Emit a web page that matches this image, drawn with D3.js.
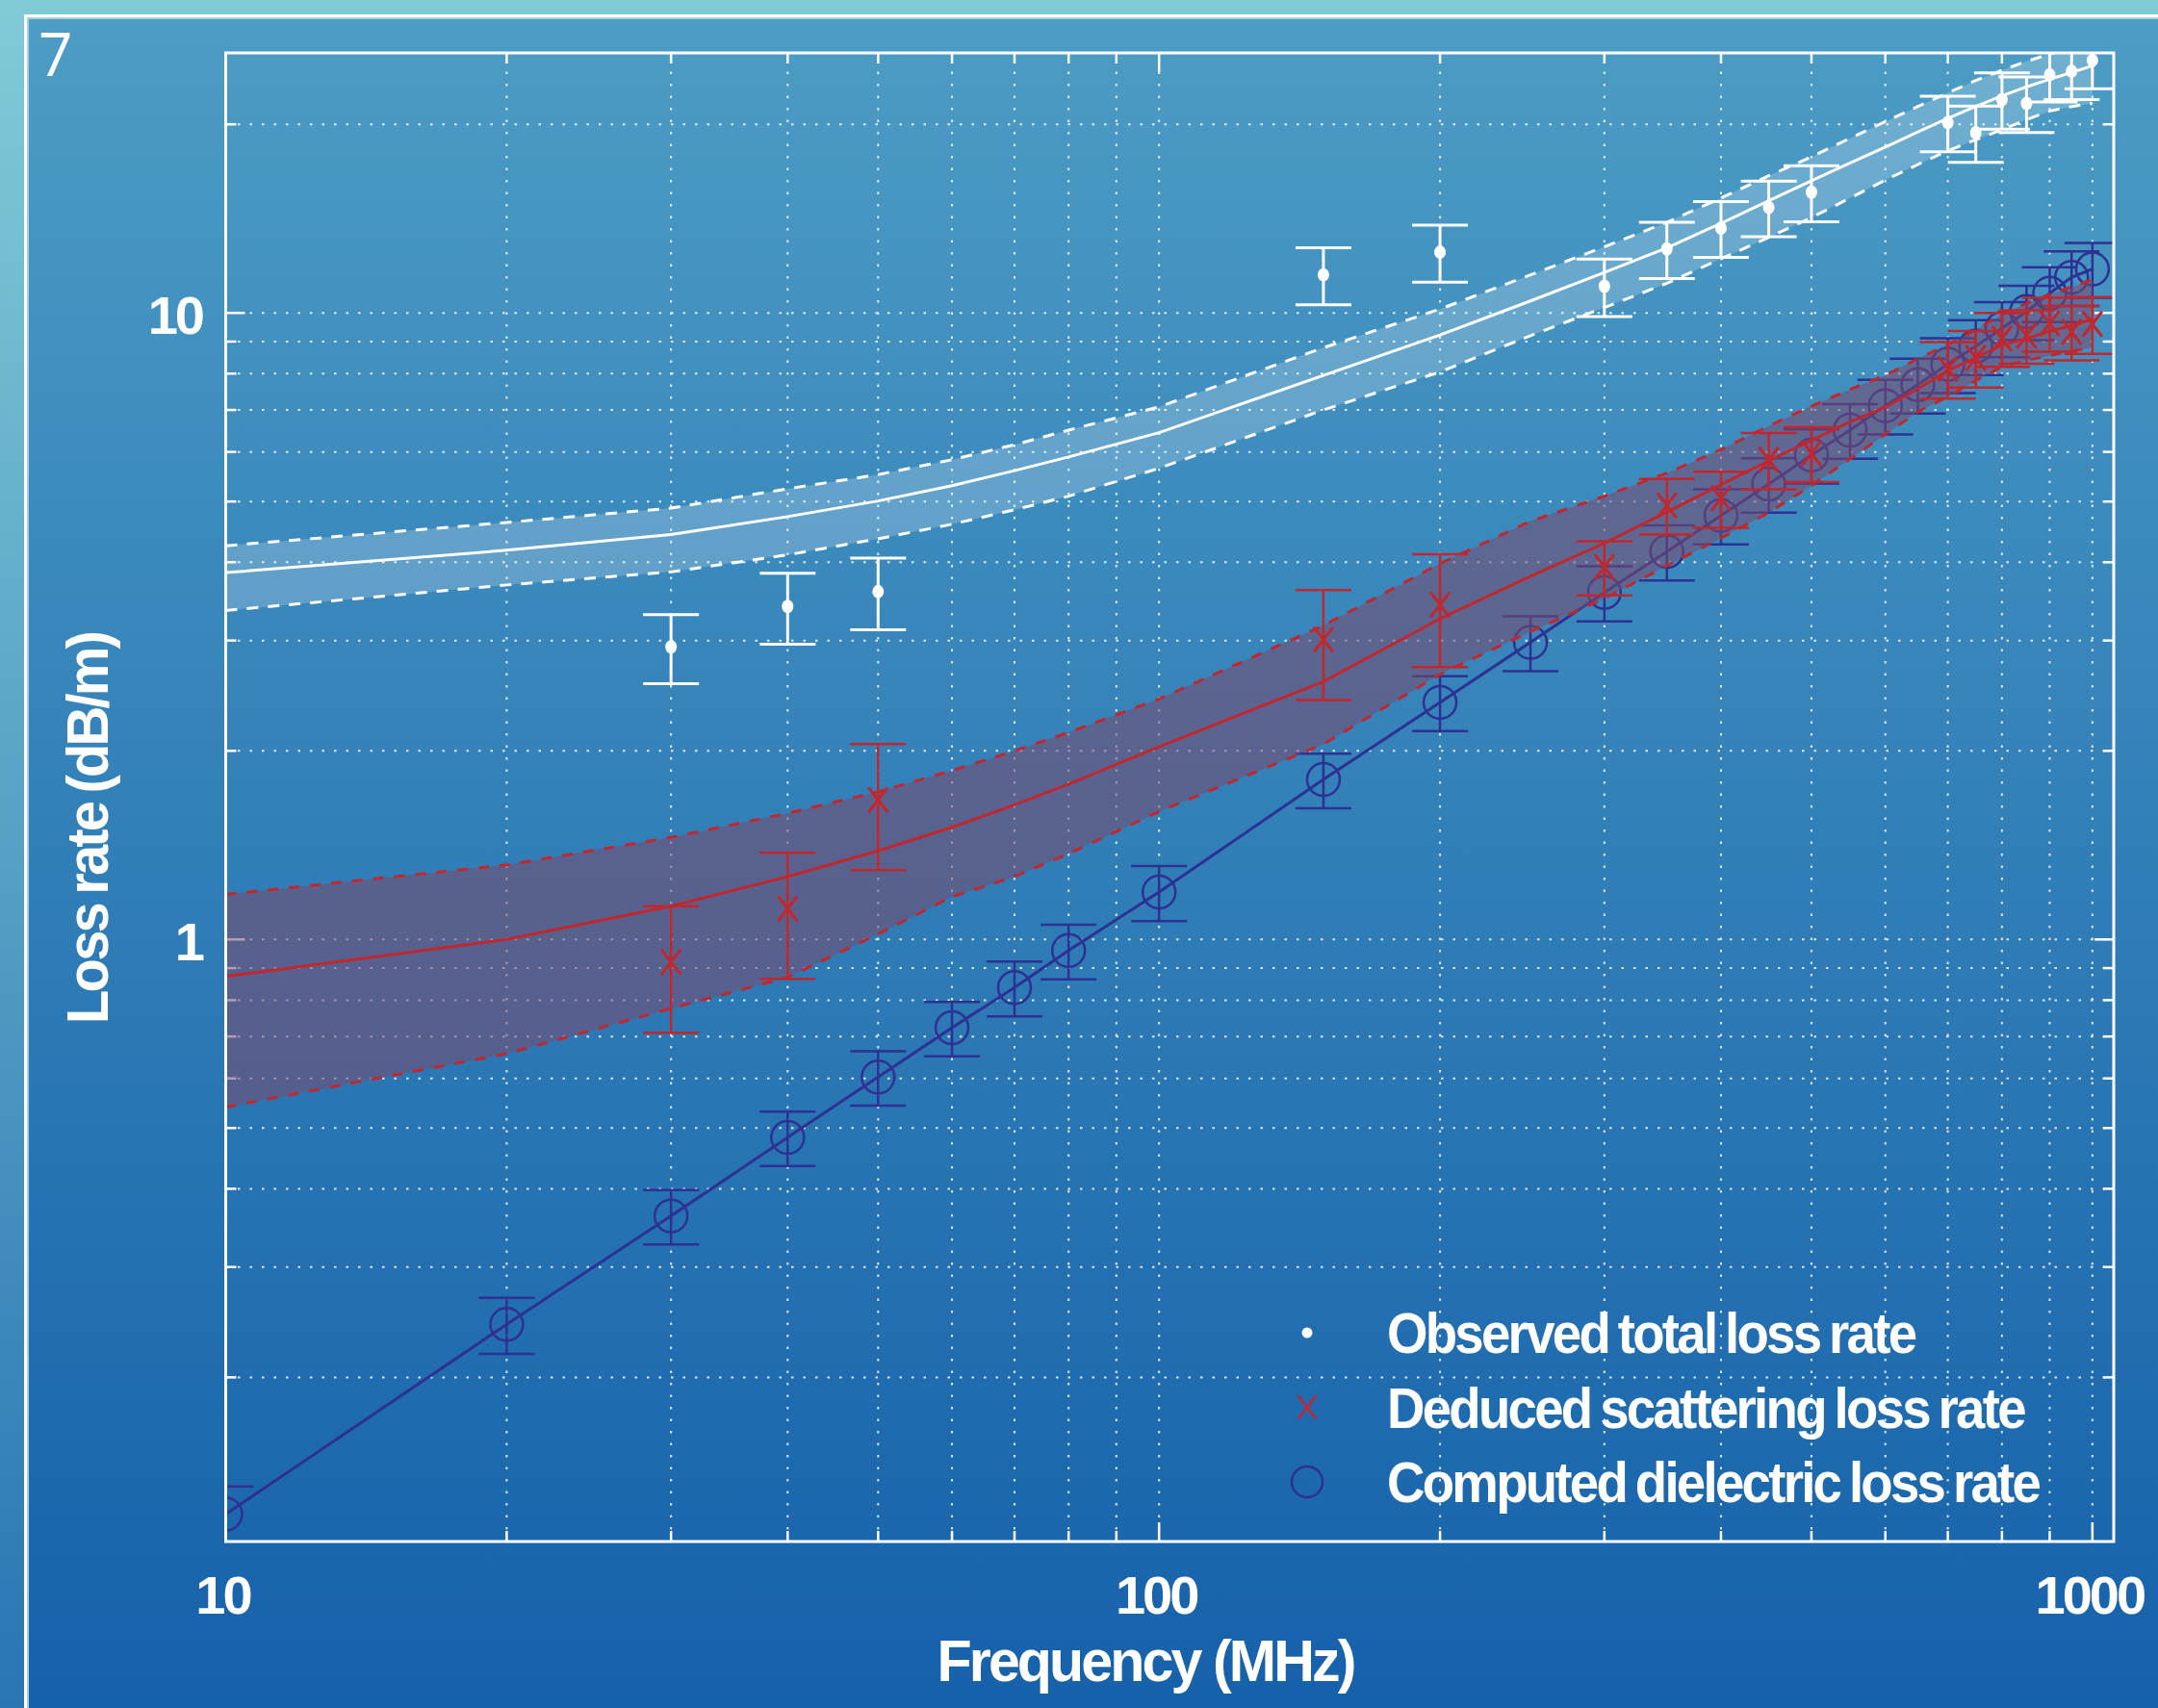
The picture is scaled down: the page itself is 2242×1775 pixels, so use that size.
<!DOCTYPE html>
<html>
<head>
<meta charset="utf-8">
<script src="https://cdn.jsdelivr.net/npm/d3@7"></script>
<style>
body { margin: 0; background: #1560aa; }
text { font-family: "Liberation Sans", Arial, sans-serif; fill: #fff; }
</style>
</head>
<body>
<div id="chart"></div>
<script>
// frequencies (MHz) of the model curves and the computed dielectric points
const freqs = [10, 20, 30, 40, 50, 60, 70, 80, 100, 150, 200, 250, 300, 350, 400, 450, 500, 550, 600, 650, 700, 750, 800, 850, 900, 950, 1000];

// computed dielectric loss rate (dB/m) and its error
const dielectric = [0.121, 0.243, 0.362, 0.483, 0.603, 0.723, 0.838, 0.96, 1.19, 1.80, 2.39, 2.98, 3.58, 4.16, 4.75, 5.33, 5.93, 6.5, 7.11, 7.68, 8.28, 8.85, 9.45, 10.05, 10.75, 11.4, 11.75];
const dielectricErr = [0.013, 0.025, 0.036, 0.048, 0.06, 0.072, 0.084, 0.096, 0.12, 0.18, 0.24, 0.3, 0.36, 0.42, 0.48, 0.53, 0.59, 0.65, 0.71, 0.77, 0.83, 0.89, 0.95, 1.0, 1.08, 1.14, 1.18];

// model curves: total loss (white) and scattering loss (red), with their bands
const totalFit = [3.85, 4.18, 4.43, 4.73, 5.01, 5.3, 5.6, 5.89, 6.44, 7.95, 9.22, 10.45, 11.6, 12.7, 13.9, 15.1, 16.25, 17.35, 18.4, 19.45, 20.45, 21.35, 22.2, 22.95, 23.6, 24.2, 24.8];
const totalHi = [4.25, 4.63, 4.88, 5.24, 5.52, 5.83, 6.16, 6.5, 7.08, 8.8, 10.14, 11.5, 12.75, 13.95, 15.25, 16.55, 17.75, 19.0, 20.2, 21.35, 22.45, 23.5, 24.4, 25.2, 25.9, 26.5, 27.1];
const totalLo = [3.35, 3.68, 3.86, 4.11, 4.36, 4.6, 4.85, 5.1, 5.65, 7.0, 8.05, 9.2, 10.2, 11.15, 12.2, 13.2, 14.2, 15.25, 16.3, 17.25, 18.15, 18.9, 19.6, 20.35, 21.0, 21.35, 21.6];
const scatFit = [0.873, 1.0, 1.13, 1.26, 1.385, 1.51, 1.64, 1.77, 2.03, 2.58, 3.25, 3.8, 4.29, 4.81, 5.32, 5.81, 6.26, 6.7, 7.07, 7.56, 8.09, 8.48, 8.89, 9.1, 9.35, 9.55, 9.77];
const scatHi = [1.18, 1.315, 1.455, 1.59, 1.72, 1.86, 2.0, 2.14, 2.42, 3.17, 3.98, 4.65, 5.1, 5.55, 6.05, 6.6, 7.1, 7.55, 7.95, 8.45, 8.9, 9.4, 9.95, 10.35, 10.7, 11.0, 11.3];
const scatLo = [0.54, 0.657, 0.776, 0.87, 1.02, 1.17, 1.26, 1.37, 1.6, 2.05, 2.65, 3.1, 3.5, 3.95, 4.37, 4.8, 5.3, 5.85, 6.4, 6.95, 7.35, 7.8, 8.2, 8.4, 8.55, 8.7, 8.8];

// observed total and deduced scattering points
const obsFreqs = [30, 40, 50, 150, 200, 300, 350, 400, 450, 500, 700, 750, 800, 850, 900, 950, 1000];
const observed = [2.93, 3.40, 3.59, 11.5, 12.5, 11.03, 12.65, 13.66, 14.73, 15.58, 20.13, 19.39, 21.9, 21.6, 24.0, 24.3, 25.3];
const observedErr = [0.37, 0.44, 0.47, 1.2, 1.3, 1.16, 1.3, 1.4, 1.5, 1.6, 2.05, 2.0, 2.25, 2.2, 2.3, 2.4, 2.5];
const scattering = [0.92, 1.12, 1.67, 3.01, 3.42, 3.93, 4.93, 5.06, 5.83, 5.97, 8.14, 8.48, 9.1, 9.2, 9.62, 9.33, 9.6];
const scatteringErr = [0.21, 0.255, 0.38, 0.6, 0.7, 0.39, 0.5, 0.52, 0.6, 0.6, 0.84, 0.88, 0.9, 0.9, 0.95, 0.93, 1.0];

// ticks
const xTicks = [10, 20, 30, 40, 50, 60, 70, 80, 90, 100, 200, 300, 400, 500, 600, 700, 800, 900, 1000];
const xLabels = [10, 100, 1000];
const yTicks = [0.2, 0.3, 0.4, 0.5, 0.6, 0.7, 0.8, 0.9, 1, 2, 3, 4, 5, 6, 7, 8, 9, 10, 20];
const yLabels = [1, 10];

const legendLabels = ['Observed total loss rate', 'Deduced scattering loss rate', 'Computed dielectric loss rate'];

const W = 2242, H = 1775;
const plot = { left: 234.5, right: 2196, top: 55, bottom: 1602 };
const red = '#c1272d', blue = '#2e3192';

const x = d3.scaleLog().domain([10, 1054]).range([plot.left, plot.right]);
const y = d3.scaleLog().domain([0.1094, 26]).range([plot.bottom, plot.top]);

const svg = d3.select('#chart').append('svg').attr('width', W).attr('height', H);
const defs = svg.append('defs');

const grad = (id, c0, c1) => {
    const g = defs.append('linearGradient').attr('id', id)
        .attr('x1', 0).attr('y1', 0).attr('x2', 0).attr('y2', 1);
    g.append('stop').attr('offset', 0).attr('stop-color', c0);
    g.append('stop').attr('offset', 1).attr('stop-color', c1);
};
grad('strip', '#80cbd6', '#2a75b3');
grad('panel', '#4c9cc5', '#1560aa');

defs.append('clipPath').attr('id', 'clip').append('rect')
    .attr('x', plot.left).attr('y', plot.top)
    .attr('width', plot.right - plot.left).attr('height', plot.bottom - plot.top);

// slide background
svg.append('rect').attr('width', W).attr('height', H).attr('fill', 'url(#strip)');
svg.append('rect').attr('x', 25).attr('y', 15).attr('width', W).attr('height', H).attr('fill', '#fff');
svg.append('rect').attr('x', 28).attr('y', 18).attr('width', W).attr('height', H).attr('fill', '#a9cde3');
svg.append('rect').attr('x', 30).attr('y', 20).attr('width', W).attr('height', H).attr('fill', 'url(#panel)');

svg.append('text').attr('x', 40).attr('y', 79)
    .style('font-family', '"Open Sans", sans-serif').style('font-weight', 400)
    .style('font-size', '62px').text('7');

// dotted grid
const grid = svg.append('g').attr('stroke', '#fff').attr('stroke-width', 2)
    .attr('stroke-dasharray', '2.5,10').attr('opacity', 0.85);
grid.selectAll('.gx').data(xTicks.filter((d) => d > 10)).join('line')
    .attr('x1', (d) => x(d)).attr('x2', (d) => x(d))
    .attr('y1', plot.bottom).attr('y2', plot.top);
grid.selectAll('.gy').data(yTicks).join('line')
    .attr('y1', (d) => y(d)).attr('y2', (d) => y(d))
    .attr('x1', plot.left).attr('x2', plot.right);

// ticks on all four sides, pointing inward
const isMajor = (d) => Math.abs(Math.log10(d) - Math.round(Math.log10(d))) < 1e-9;
const ticks = svg.append('g').attr('stroke', '#fff').attr('stroke-width', 2.5);
const tl = (d) => (isMajor(d) ? 20 : 11);
ticks.selectAll('.tb').data(xTicks).join('line')
    .attr('x1', (d) => x(d)).attr('x2', (d) => x(d))
    .attr('y1', plot.bottom).attr('y2', (d) => plot.bottom - tl(d));
ticks.selectAll('.tt').data(xTicks).join('line')
    .attr('x1', (d) => x(d)).attr('x2', (d) => x(d))
    .attr('y1', plot.top).attr('y2', (d) => plot.top + tl(d));
ticks.selectAll('.tl').data(yTicks).join('line')
    .attr('y1', (d) => y(d)).attr('y2', (d) => y(d))
    .attr('x1', plot.left).attr('x2', (d) => plot.left + tl(d));
ticks.selectAll('.tr').data(yTicks).join('line')
    .attr('y1', (d) => y(d)).attr('y2', (d) => y(d))
    .attr('x1', plot.right).attr('x2', (d) => plot.right - tl(d));

const body = svg.append('g').attr('clip-path', 'url(#clip)');

const line = (vals) => d3.line().x((d, i) => x(freqs[i])).y((d, i) => y(vals[i]))(freqs);
const area = (lo, hi) => d3.area()
    .x((d, i) => x(freqs[i])).y0((d, i) => y(lo[i])).y1((d, i) => y(hi[i]))(freqs);

function errorBars(g, fs, vals, errs, color, width) {
    const pts = fs.map((f, i) => ({ f, v: vals[i], e: errs[i] }));
    const eg = g.append('g').attr('stroke', color).attr('stroke-width', width).attr('fill', 'none');
    eg.selectAll('.v').data(pts).join('line')
        .attr('x1', (d) => x(d.f)).attr('x2', (d) => x(d.f))
        .attr('y1', (d) => y(d.v - d.e)).attr('y2', (d) => y(d.v + d.e));
    eg.selectAll('.hi').data(pts).join('line')
        .attr('x1', (d) => x(d.f) - 29).attr('x2', (d) => x(d.f) + 29)
        .attr('y1', (d) => y(d.v + d.e)).attr('y2', (d) => y(d.v + d.e));
    eg.selectAll('.lo').data(pts).join('line')
        .attr('x1', (d) => x(d.f) - 29).attr('x2', (d) => x(d.f) + 29)
        .attr('y1', (d) => y(d.v - d.e)).attr('y2', (d) => y(d.v - d.e));
    return pts;
}

// computed dielectric loss (blue)
body.append('path').attr('d', line(dielectric)).attr('fill', 'none')
    .attr('stroke', blue).attr('stroke-width', 3);
const bluePts = errorBars(body, freqs, dielectric, dielectricErr, blue, 2.5);
body.append('g').selectAll('circle').data(bluePts).join('circle')
    .attr('cx', (d) => x(d.f)).attr('cy', (d) => y(d.v)).attr('r', 17)
    .attr('fill', 'none').attr('stroke', blue).attr('stroke-width', 2.5);

// deduced scattering loss (red)
body.append('path').attr('d', area(scatLo, scatHi)).attr('fill', '#7a4a6e').attr('opacity', 0.55);
body.append('path').attr('d', line(scatHi)).attr('fill', 'none')
    .attr('stroke', red).attr('stroke-width', 3).attr('stroke-dasharray', '11,11');
body.append('path').attr('d', line(scatLo)).attr('fill', 'none')
    .attr('stroke', red).attr('stroke-width', 3).attr('stroke-dasharray', '11,11');
body.append('path').attr('d', line(scatFit)).attr('fill', 'none')
    .attr('stroke', red).attr('stroke-width', 3);
const redPts = errorBars(body, obsFreqs, scattering, scatteringErr, red, 2.5);
const cross = (s) => `M${-s},${-s * 1.3}L${s},${s * 1.3}M${-s},${s * 1.3}L${s},${-s * 1.3}`;
body.append('g').selectAll('path').data(redPts).join('path')
    .attr('transform', (d) => `translate(${x(d.f)},${y(d.v)})`)
    .attr('d', cross(10)).attr('fill', 'none').attr('stroke', red).attr('stroke-width', 3);

// observed total loss (white)
body.append('path').attr('d', area(totalLo, totalHi)).attr('fill', '#fff').attr('opacity', 0.2);
body.append('path').attr('d', line(totalHi)).attr('fill', 'none')
    .attr('stroke', '#fff').attr('stroke-width', 3).attr('stroke-dasharray', '12,10');
body.append('path').attr('d', line(totalLo)).attr('fill', 'none')
    .attr('stroke', '#fff').attr('stroke-width', 3).attr('stroke-dasharray', '12,10');
body.append('path').attr('d', line(totalFit)).attr('fill', 'none')
    .attr('stroke', '#fff').attr('stroke-width', 3);
const whitePts = errorBars(body, obsFreqs, observed, observedErr, '#fff', 3);
body.append('g').selectAll('ellipse').data(whitePts).join('ellipse')
    .attr('cx', (d) => x(d.f)).attr('cy', (d) => y(d.v)).attr('rx', 6).attr('ry', 7)
    .attr('fill', '#fff');

// frame
svg.append('rect').attr('x', plot.left).attr('y', plot.top)
    .attr('width', plot.right - plot.left).attr('height', plot.bottom - plot.top)
    .attr('fill', 'none').attr('stroke', '#fff').attr('stroke-width', 3);

// tick labels
svg.append('g').selectAll('text').data(xLabels).join('text')
    .attr('x', (d) => x(d) - 3).attr('y', 1677).attr('text-anchor', 'middle')
    .style('font-size', '56px').style('font-weight', 'bold').style('letter-spacing', '-3px')
    .text((d) => d);
svg.append('g').selectAll('text').data(yLabels).join('text')
    .attr('x', 210).attr('y', (d) => y(d) + 22).attr('text-anchor', 'end')
    .style('font-size', '56px').style('font-weight', 'bold').style('letter-spacing', '-3px')
    .text((d) => d);

// axis titles
svg.append('text').attr('transform', 'translate(1190,1747) scale(0.97,1)').attr('text-anchor', 'middle')
    .style('font-size', '61px').style('font-weight', 'bold')
    .style('letter-spacing', '-3px')
    .text('Frequency (MHz)');
svg.append('text').attr('transform', 'translate(112,861) rotate(-90) scale(0.95,1)').attr('text-anchor', 'middle')
    .style('font-size', '61px').style('font-weight', 'bold')
    .style('letter-spacing', '-3px').style('word-spacing', '-3px')
    .text('Loss rate (dB/m)');

// legend
const legend = svg.append('g');
const rowY = (i) => 1385 + i * 77.5;
legend.selectAll('text').data(legendLabels).join('text')
    .attr('transform', (d, i) => `translate(1441,${rowY(i) + 21}) scale(0.91,1)`)
    .style('font-size', '60px').style('font-weight', 'bold')
    .style('letter-spacing', '-3px').style('word-spacing', '-3px')
    .text((d) => d);
legend.append('circle').attr('cx', 1358).attr('cy', rowY(0)).attr('r', 5.5).attr('fill', '#fff');
legend.append('path').attr('transform', `translate(1358,${rowY(1)})`).attr('d', cross(9.5))
    .attr('fill', 'none').attr('stroke', red).attr('stroke-width', 2.5);
legend.append('circle').attr('cx', 1358).attr('cy', rowY(2)).attr('r', 16)
    .attr('fill', 'none').attr('stroke', blue).attr('stroke-width', 2.5);
</script>
</body>
</html>
